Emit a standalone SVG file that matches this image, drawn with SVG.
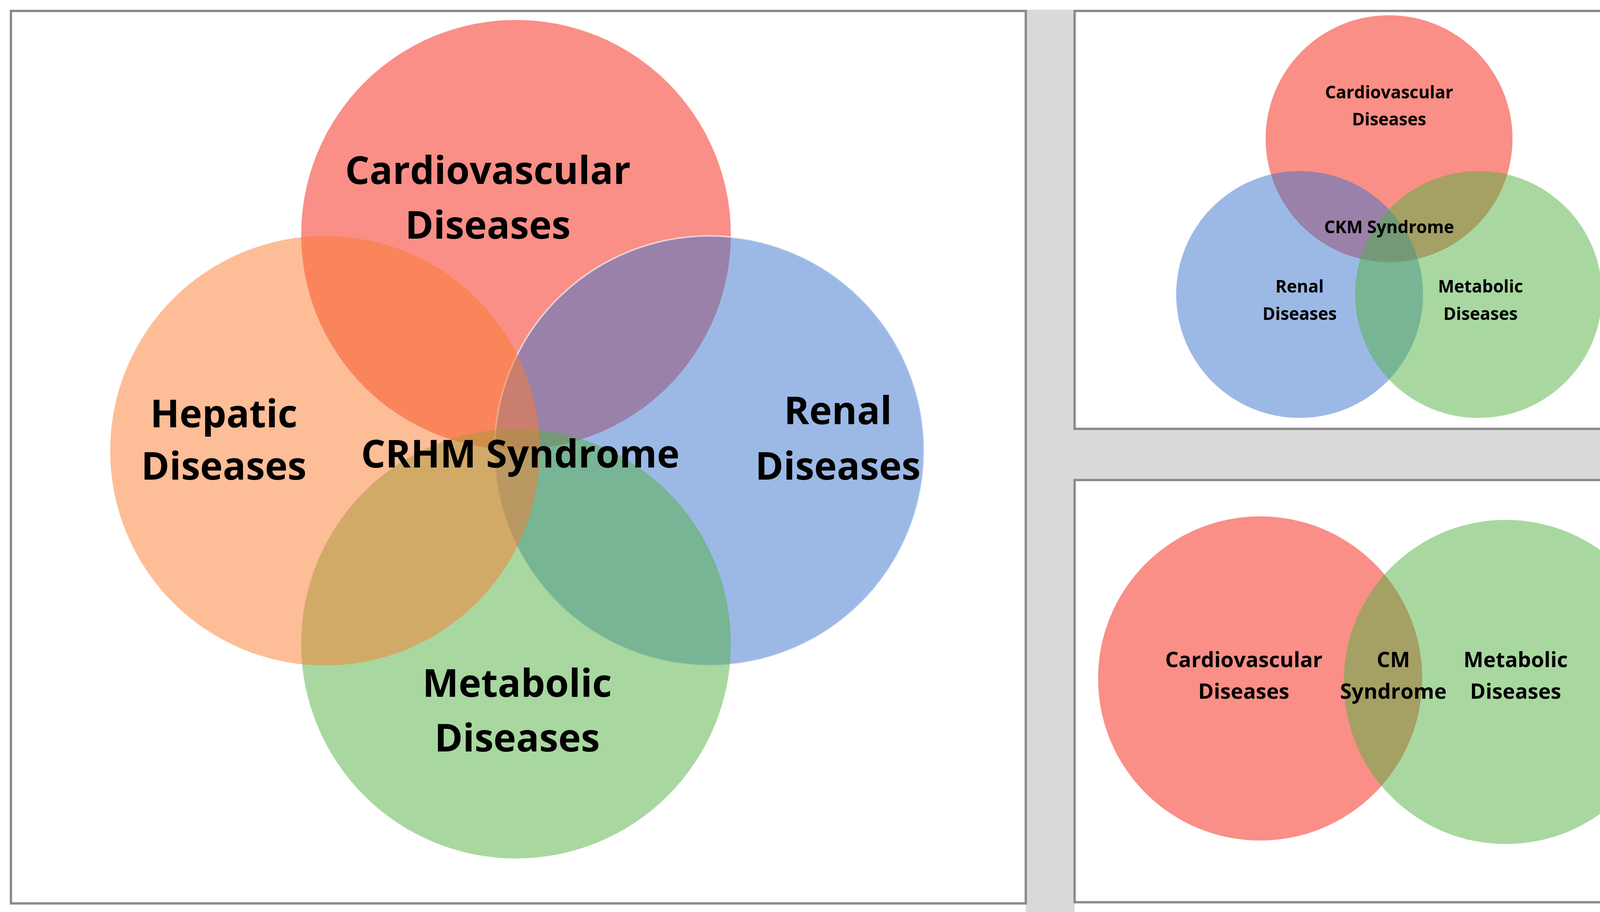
<svg xmlns="http://www.w3.org/2000/svg" width="4380" height="2335" viewBox="0 0 4380 2335">
<style>
.p{fill:#fff;stroke:#8c8c8c;stroke-width:6}
.r{fill:#f31f0d;fill-opacity:.5}
.o{fill:#fb7b2f;fill-opacity:.5}
.b{fill:#3973cd;fill-opacity:.5}
.g{fill:#51b141;fill-opacity:.5}
text{font-family:"Open Sans","Liberation Sans",sans-serif;font-weight:bold;fill:#000;text-anchor:middle;dominant-baseline:central}
.L{font-size:98px}.S{font-size:44px}.M{font-size:54px}
</style>
<rect width="4380" height="2335" fill="#fff"/>
<rect x="2626" y="25" width="125" height="2310" fill="#d9d9d9"/>
<rect x="2626" y="1098" width="1754" height="131" fill="#d9d9d9"/>
<g id="left"><rect class="p" x="28" y="28" width="2598" height="2285"/>
<circle class="r" cx="1321" cy="601" r="550"/>
<circle class="b" cx="1816" cy="1154" r="550" stroke="#fff" stroke-width="4" stroke-opacity=".6"/>
<circle class="g" cx="1321" cy="1648" r="550"/>
<circle class="o" cx="832" cy="1154" r="550"/>
<text class="L" x="1249" y="433">Cardiovascular</text><text class="L" x="1249" y="573">Diseases</text>
<text class="L" x="573" y="1056">Hepatic</text><text class="L" x="573" y="1190">Diseases</text>
<text class="L" x="2145" y="1048">Renal</text><text class="L" x="2145" y="1190">Diseases</text>
<text class="L" x="1332" y="1159">CRHM Syndrome</text>
<text class="L" x="1324" y="1746">Metabolic</text><text class="L" x="1324" y="1886">Diseases</text>
</g>
<g id="topright"><rect class="p" x="2751" y="28" width="1615" height="1070"/>
<circle class="r" cx="3556" cy="355" r="316"/>
<circle class="b" cx="3327" cy="754" r="316"/>
<circle class="g" cx="3785" cy="754" r="316"/>
<text class="S" x="3556" y="235">Cardiovascular</text><text class="S" x="3556" y="304">Diseases</text>
<text class="S" x="3556" y="580">CKM Syndrome</text>
<text class="S" x="3327" y="732">Renal</text><text class="S" x="3327" y="802">Diseases</text>
<text class="S" x="3790" y="732">Metabolic</text><text class="S" x="3790" y="802">Diseases</text>
</g>
<g id="bottomright"><rect class="p" x="2751" y="1229" width="1615" height="1081"/>
<circle class="r" cx="3226" cy="1737" r="415"/>
<circle class="g" cx="3855" cy="1746" r="415"/>
<text class="M" x="3184" y="1687">Cardiovascular</text><text class="M" x="3184" y="1768">Diseases</text>
<text class="M" x="3567" y="1687">CM</text><text class="M" x="3567" y="1768">Syndrome</text>
<text class="M" x="3880" y="1687">Metabolic</text><text class="M" x="3880" y="1768">Diseases</text>
</g>
<g id="connectors"/>
</svg>
